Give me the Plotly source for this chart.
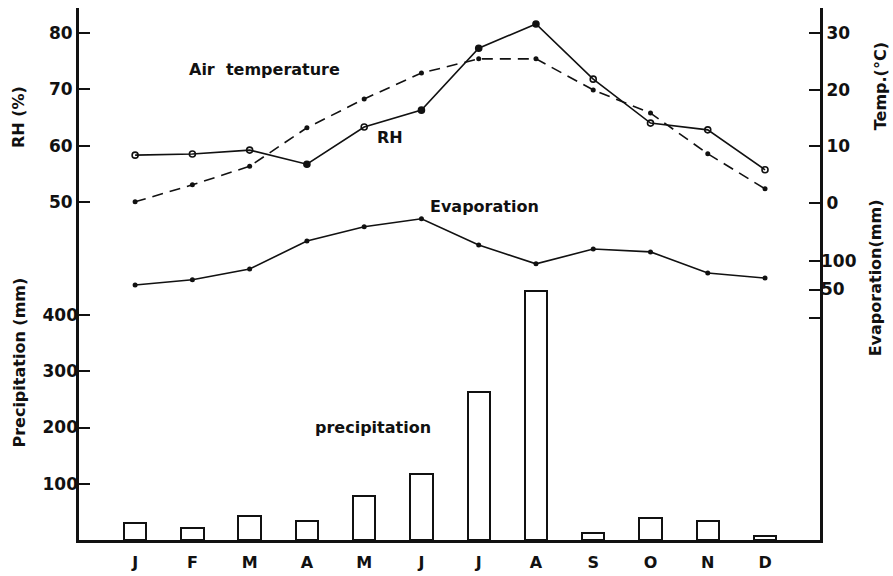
import plotly.graph_objects as go

months = ["J", "F", "M", "A", "M", "J", "J", "A", "S", "O", "N", "D"]
rh = [58.3, 58.5, 59.2, 56.7, 63.3, 66.3, 77.3, 81.6, 71.8, 64.0, 62.8, 55.7]
temp = [0.2, 3.2, 6.5, 13.3, 18.4, 23.0, 25.5, 25.5, 20.0, 15.9, 8.7, 2.5]
evap = [58, 67, 86, 135, 160, 174, 128, 95, 121, 116, 79, 70]
precip = [30, 21, 43, 34, 78, 117, 263, 443, 12, 39, 34, 7]

rh_ticks = [50, 60, 70, 80]
precip_ticks = [100, 200, 300, 400]
temp_ticks = [0, 10, 20, 30]
evap_ticks = [0, 50, 100]
evap_ticklabels = ["", "50", "100"]

x = list(range(len(months)))
FONT = "DejaVu Sans"
BLACK = "#111111"

fig = go.Figure()

fig.add_trace(go.Bar(
    x=x, y=precip, yaxis="y2", width=0.39,
    marker=dict(color="white", line=dict(color=BLACK, width=2)),
    showlegend=False, hoverinfo="skip"))

rh_symbols = ["circle-open", "circle-open", "circle-open", "circle", "circle-open", "circle",
              "circle", "circle", "circle-open", "circle-open", "circle-open", "circle-open"]
fig.add_trace(go.Scatter(
    x=x, y=rh, yaxis="y", mode="lines+markers",
    line=dict(color=BLACK, width=1.6),
    marker=dict(symbol=rh_symbols, size=6, color=BLACK, line=dict(color=BLACK, width=1.6)),
    showlegend=False))

fig.add_trace(go.Scatter(
    x=x, y=temp, yaxis="y3", mode="lines+markers",
    line=dict(color=BLACK, width=1.6, dash="11px,7px"),
    marker=dict(symbol="circle", size=5, color=BLACK),
    showlegend=False))

fig.add_trace(go.Scatter(
    x=x, y=evap, yaxis="y4", mode="lines+markers",
    line=dict(color=BLACK, width=1.6),
    marker=dict(symbol="circle", size=5, color=BLACK),
    showlegend=False))

tickfont = dict(family=FONT, size=17, color=BLACK, weight="bold")

fig.update_layout(
    width=893, height=576,
    margin=dict(l=79, r=73, t=8, b=36, autoexpand=False),
    paper_bgcolor="white", plot_bgcolor="white",
    bargap=0,
    xaxis=dict(
        range=[-0.98, 11.96], tickvals=x, ticktext=months, automargin=False,
        showgrid=False, zeroline=False, showline=True, linewidth=3, linecolor=BLACK,
        ticks="", ticklabelstandoff=6,
        tickfont=dict(family=FONT, size=16, color=BLACK, weight="bold")),
    yaxis=dict(
        range=[-10.05, 84.44], tickvals=rh_ticks, side="left", automargin=False,
        showgrid=False, zeroline=False, showline=True, linewidth=3, linecolor=BLACK,
        ticks="inside", ticklen=11, tickwidth=2, tickcolor=BLACK, tickfont=tickfont),
    yaxis2=dict(
        range=[0, 945.8], tickvals=precip_ticks, side="left", overlaying="y", automargin=False,
        showgrid=False, zeroline=False, showline=False,
        ticks="inside", ticklen=11, tickwidth=2, tickcolor=BLACK, tickfont=tickfont),
    yaxis3=dict(
        range=[-59.65, 34.5], tickvals=temp_ticks, side="right", overlaying="y", automargin=False,
        showgrid=False, zeroline=False, showline=True, linewidth=3, linecolor=BLACK,
        ticks="inside", ticklen=11, tickwidth=2, tickcolor=BLACK, tickfont=tickfont),
    yaxis4=dict(
        range=[-389.5, 543.9], tickvals=evap_ticks, ticktext=evap_ticklabels,
        side="right", overlaying="y", automargin=False,
        showgrid=False, zeroline=False, showline=False,
        ticks="inside", ticklen=11, tickwidth=2, tickcolor=BLACK, tickfont=tickfont),
)

ann_font = dict(family=FONT, size=16, color=BLACK, weight="bold")
labels = [
    ("Air  temperature", 0.2497, 0.8835, 0),
    ("RH", 0.4197, 0.7575, 0),
    ("Evaporation", 0.5466, 0.626, 0),
    ("precipitation", 0.397, 0.2124, 0),
    ("RH (%)", -0.0823, 0.795, -90),
    ("Precipitation (mm)", -0.080, 0.333, -90),
    ("Temp.(°C)", 1.081, 0.853, -90),
    ("Evaporation(mm)", 1.076, 0.4925, -90),
]
for text, ax, ay, angle in labels:
    fig.add_annotation(text=text, x=ax, y=ay, xref="paper", yref="paper",
                       showarrow=False, textangle=angle, font=ann_font,
                       xanchor="center", yanchor="middle")

fig.write_html(
    "out.html",
    config={"displayModeBar": False},
    post_script="document.body.style.margin='0';document.body.style.overflow='hidden';",
)
